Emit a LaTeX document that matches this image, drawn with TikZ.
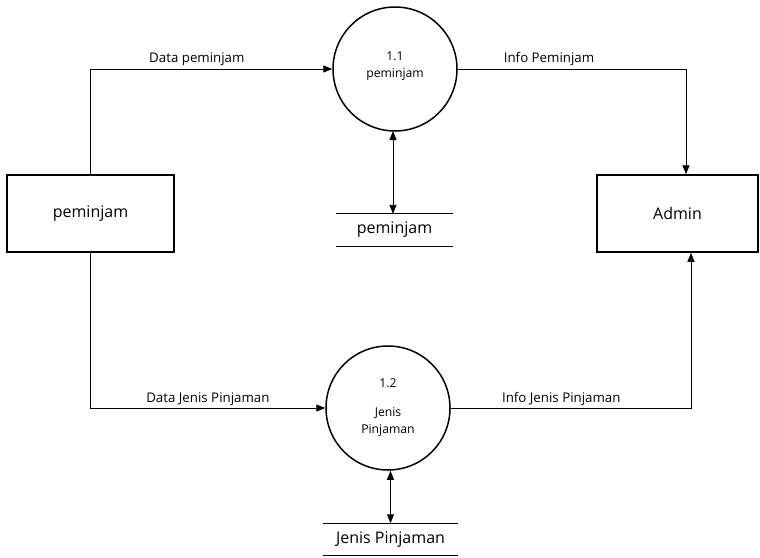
\documentclass[tikz,border=0pt]{standalone}
\usepackage{fontspec}
\setmainfont{Open Sans}
\usetikzlibrary{arrows.meta}
\begin{document}
\begin{tikzpicture}[x=1pt,y=-1pt,
  ent/.style={draw,line width=1.5pt,minimum height=77pt,inner sep=0pt,font=\fontsize{16}{18}\selectfont},
  proc/.style={draw,circle,line width=1.5pt,minimum size=124pt,inner sep=0pt},
  ptext/.style={align=center,inner sep=0pt,font=\fontsize{12.2}{13}\selectfont},
  store/.style={inner sep=0pt,minimum height=32pt,font=\fontsize{16}{18}\selectfont},
  flow/.style={line width=0.9pt,-{Triangle[length=9pt,width=7pt]}},
  both/.style={line width=0.9pt,{Triangle[length=9pt,width=7pt]}-{Triangle[length=9pt,width=7pt]}},
  flabel/.style={inner sep=0pt,font=\fontsize{13.3}{15}\selectfont}]
\useasboundingbox[fill=white] (0,0) rectangle (760,557);

% external entities
\node[ent,minimum width=167pt] (pem) at (90.5,213.5) {peminjam};
\node[ent,minimum width=161pt] (adm) at (677.5,213.5) {Admin};

% processes
\node[proc] (p1) at (395,69) {};
\node[ptext] (p1t) at (395,66) {1.1\\[4pt]peminjam};
\node[proc] (p2) at (388,408) {};
\node[ptext] (p2t) at (388,407.5) {1.2\\[16pt]Jenis\\[4pt]Pinjaman};

% data stores
\node[store,minimum width=117pt] (s1) at (394.5,230) {peminjam};
\draw[line width=0.9pt] (s1.north west) -- (s1.north east) (s1.south west) -- (s1.south east);
\node[store,minimum width=135pt] (s2) at (390.5,539.5) {Jenis Pinjaman};
\draw[line width=0.9pt] (s2.north west) -- (s2.north east) (s2.south west) -- (s2.south east);

% data flows
\draw[flow] (pem.north) |- (p1.west) node[flabel,pos=0.72,above=3pt] (l1) {Data peminjam};
\draw[flow] (p1.east) -| ([xshift=8.5pt]adm.north) node[flabel,pos=0.2,above=3pt] (l2) {Info Peminjam};
\draw[flow] (pem.south) |- (p2.west) node[flabel,pos=0.75,above=1.5pt] (l3) {Data Jenis Pinjaman};
\draw[flow] (p2.east) -| ([xshift=13.5pt]adm.south) node[flabel,pos=0.23,above=1.5pt] (l4) {Info Jenis Pinjaman};
\draw[both] (s1.north -| 393,0) -- (393,131);
\draw[both] (s2.north) -- (s2.north |- p2.south);
\end{tikzpicture}
\end{document}
